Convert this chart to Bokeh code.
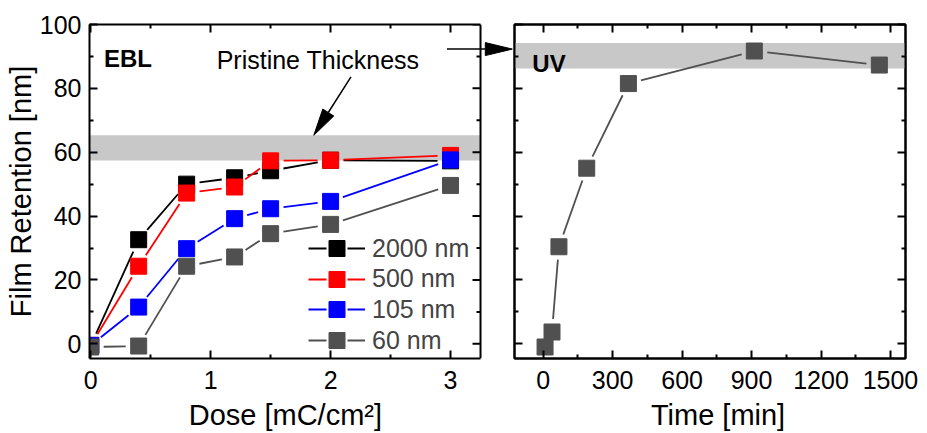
import math

from bokeh.embed import file_html
from bokeh.layouts import row
from bokeh.models import (Arrow, BoxAnnotation, ColumnDataSource, FixedTicker, Label,
                          Legend, LegendItem, LinearAxis, Range1d, Span)
from bokeh.plotting import figure
from bokeh.resources import INLINE

# ---- data -------------------------------------------------------------
dose = [0.0, 0.4, 0.8, 1.2, 1.5, 2.0, 3.0]          # mC/cm^2
ret_2000 = [-0.5, 32.6, 50.0, 52.0, 54.2, 57.5, 57.3]
ret_500 = [-0.5, 24.3, 47.2, 49.1, 57.3, 57.5, 59.0]
ret_105 = [-0.5, 11.5, 29.8, 39.2, 42.3, 44.6, 57.6]
ret_60 = [-1.0, -0.7, 24.3, 27.2, 34.5, 37.4, 49.6]
series_labels = ["2000 nm", "500 nm", "105 nm", "60 nm"]
series_colors = ["#000000", "#ff0000", "#0000ff", "#505050"]

uv_time = [8, 38, 68, 188, 368, 912, 1452]          # min
uv_ret = [-1.0, 3.7, 30.4, 55.0, 81.5, 91.7, 87.3]

ebl_band = (57.4, 65.3)     # pristine thickness range, EBL films
uv_band = (86.2, 94.2)      # pristine thickness range, UV film

dose_ticks = [0, 1, 2, 3]
dose_minor = [0.5, 1.5, 2.5]
time_ticks = [0, 300, 600, 900, 1200, 1500]
time_minor = [150, 450, 750, 1050, 1350]
ret_ticks = [0, 20, 40, 60, 80, 100]
ret_minor = [10, 30, 50, 70, 90]

# ---- layout constants -------------------------------------------------
FONT = "Liberation Sans"
NBSP = "\u00a0"
FH = 334
FW1 = 424                  # EBL frame incl. the strip the arrow crosses
FW2 = 391
LEFT1, TOP = 89, 24
DOSE_BOX = (-0.01, 3.25)   # visible extent of the EBL box
X1 = (-0.01, 3.525)
X2 = (-124, 1565)
Y = (-4.6, 100)
GAP = 13          # px left free between a line end and a marker centre
MSIZE = 16
HEAD_LEN, HEAD_W = 27, 13
TICK_IN, MINOR_IN = 8, 4
KEY_X, KEY_Y0, KEY_STEP = 219, 90, 30.7   # legend rows, px from frame bottom-left

kx1, ky = FW1 / (X1[1] - X1[0]), FH / (Y[1] - Y[0])
kx2 = FW2 / (X2[1] - X2[0])


def gapped(xs, ys, kx, gap=GAP):
    """Line segments between consecutive points, trimmed around markers."""
    out = dict(x0=[], y0=[], x1=[], y1=[])
    for xa, ya, xb, yb in zip(xs, ys, xs[1:], ys[1:]):
        dx, dy = (xb - xa) * kx, (yb - ya) * ky
        length = math.hypot(dx, dy)
        if length <= 2 * gap:
            continue
        t = gap / length
        out["x0"].append(xa + (xb - xa) * t)
        out["y0"].append(ya + (yb - ya) * t)
        out["x1"].append(xb - (xb - xa) * t)
        out["y1"].append(yb - (yb - ya) * t)
    return out


def style_axis(ax, labelled):
    ax.axis_line_width = 2
    ax.axis_line_color = "black"
    ax.major_tick_in = TICK_IN
    ax.major_tick_out = 0
    ax.minor_tick_in = MINOR_IN
    ax.minor_tick_out = 0
    ax.major_tick_line_width = 2
    ax.minor_tick_line_width = 2
    ax.major_tick_line_color = "black"
    ax.minor_tick_line_color = "black"
    if labelled:
        ax.major_label_text_font = FONT
        ax.major_label_text_font_size = "25px"
        ax.major_label_text_color = "black"
        ax.major_label_standoff = 8
        ax.axis_label_text_font = FONT
        ax.axis_label_text_font_size = "29px"
        ax.axis_label_text_font_style = "normal"
        ax.axis_label_text_color = "black"
        ax.axis_label_standoff = 0
    else:
        ax.major_label_text_font_size = "1px"
        ax.major_label_text_color = None
        ax.major_label_standoff = 0


def add_arrow(p, start, tip, kx):
    """Thin arrow line ending in a long, narrow filled head."""
    dx, dy = (tip[0] - start[0]) * kx, (tip[1] - start[1]) * ky
    n = math.hypot(dx, dy)
    ux, uy = dx / n, dy / n
    bx, by = tip[0] - ux * HEAD_LEN / kx, tip[1] - uy * HEAD_LEN / ky
    px, py = -uy * HEAD_W / 2 / kx, ux * HEAD_W / 2 / ky
    p.add_layout(Arrow(x_start=start[0], y_start=start[1], x_end=bx, y_end=by,
                       end=None, line_width=1.5, line_color="black"))
    p.patch([tip[0], bx + px, bx - px], [tip[1], by + py, by - py],
            fill_color="black", line_color="black", line_width=1)


y_range = Range1d(*Y)

# ---- EBL panel --------------------------------------------------------
p1 = figure(frame_width=FW1, frame_height=FH, x_range=Range1d(*X1), y_range=y_range,
            output_backend="svg", toolbar_location=None,
            min_border_left=LEFT1, min_border_right=0, min_border_top=TOP,
            min_border_bottom=75)
p1.add_layout(LinearAxis(), "above")
for ax in p1.xaxis:
    ax.ticker = FixedTicker(ticks=dose_ticks, minor_ticks=dose_minor)
    ax.bounds = DOSE_BOX
p1.yaxis.ticker = FixedTicker(ticks=ret_ticks, minor_ticks=ret_minor)
style_axis(p1.below[0], True)
style_axis(p1.left[0], True)
style_axis(p1.above[0], False)
p1.below[0].major_label_standoff = 12
p1.below[0].axis_label_standoff = 7
# trailing no-break spaces keep the title centred under the visible box
p1.below[0].axis_label = "Dose [mC/cm²]" + NBSP * 4
p1.left[0].axis_label = "Film Retention [nm]"
p1.grid.visible = False
p1.outline_line_color = None

# right-hand edge of the EBL box with inward ticks
p1.add_layout(Span(location=DOSE_BOX[1], dimension="height", line_color="black",
                   line_width=2))
edge_ticks = ret_ticks + ret_minor
edge_len = [TICK_IN] * len(ret_ticks) + [MINOR_IN] * len(ret_minor)
p1.segment(x0=[DOSE_BOX[1] - L / kx1 for L in edge_len], y0=edge_ticks,
           x1=[DOSE_BOX[1]] * len(edge_ticks), y1=edge_ticks,
           line_color="black", line_width=2)

p1.add_layout(BoxAnnotation(bottom=ebl_band[0], top=ebl_band[1], right=DOSE_BOX[1],
                            fill_color="#c8c8c8", fill_alpha=1, line_color=None,
                            level="underlay"))

for i, (lab, col, ys) in enumerate(zip(series_labels, series_colors,
                                       [ret_2000, ret_500, ret_105, ret_60])):
    src = ColumnDataSource(gapped(dose, ys, kx1))
    p1.segment("x0", "y0", "x1", "y1", source=src, line_color=col, line_width=1.8)
    # hidden broken line: only used for the legend key ("-■-")
    key = p1.segment("x0", "y0", "x1", "y1", source=src, line_color=col, line_width=1.8,
                     line_dash="18 21", visible=False)
    pts = p1.scatter(dose, ys, marker="square", size=MSIZE, fill_color=col, line_color=col)
    # one legend per row: key markers are drawn at 0.4 x the glyph box (40 px -> 16 px)
    p1.add_layout(Legend(items=[LegendItem(label=lab, renderers=[key, pts])],
                         location=(KEY_X, KEY_Y0 - i * KEY_STEP),
                         glyph_width=57, glyph_height=40, label_height=31,
                         padding=0, margin=0, label_standoff=7,
                         background_fill_alpha=0, border_line_alpha=0,
                         label_text_font=FONT, label_text_font_size="25px"))

p1.add_layout(Label(x=0.11, y=89.4, text="EBL", text_font=FONT, text_font_size="24px",
                    text_font_style="bold", text_color="black", text_baseline="alphabetic"))
p1.add_layout(Label(x=1.05, y=88.8, text="Pristine Thickness", text_font=FONT,
                    text_font_size="25px", text_color="black", text_baseline="alphabetic"))

# arrows from the caption to the EBL band and across to the UV band
add_arrow(p1, (2.17, 83.6), (1.86, ebl_band[1]), kx1)
add_arrow(p1, (2.97, 92.3), (3.515, 92.3), kx1)

# ---- UV panel ---------------------------------------------------------
p2 = figure(frame_width=FW2, frame_height=FH, x_range=Range1d(*X2), y_range=y_range,
            output_backend="svg", toolbar_location=None,
            min_border_left=1, min_border_right=22, min_border_top=TOP, min_border_bottom=75)
p2.add_layout(LinearAxis(), "above")
p2.add_layout(LinearAxis(), "right")
for ax in p2.xaxis:
    ax.ticker = FixedTicker(ticks=time_ticks, minor_ticks=time_minor)
for ax in p2.yaxis:
    ax.ticker = FixedTicker(ticks=ret_ticks, minor_ticks=ret_minor)
style_axis(p2.below[0], True)
style_axis(p2.left[0], False)
style_axis(p2.above[0], False)
style_axis(p2.right[0], False)
p2.below[0].major_label_standoff = 12
p2.below[0].axis_label_standoff = 7
p2.below[0].axis_label = NBSP * 2 + "Time [min]"
p2.grid.visible = False
p2.outline_line_color = "black"
p2.outline_line_width = 2

p2.add_layout(BoxAnnotation(bottom=uv_band[0], top=uv_band[1], fill_color="#c8c8c8",
                            fill_alpha=1, line_color=None, level="underlay"))
p2.segment("x0", "y0", "x1", "y1", source=ColumnDataSource(gapped(uv_time, uv_ret, kx2)),
           line_color="#505050", line_width=1.8)
p2.scatter(uv_time, uv_ret, marker="square", size=MSIZE, fill_color="#505050",
           line_color="#505050")
p2.add_layout(Label(x=-47, y=87.8, text="UV", text_font=FONT, text_font_size="24px",
                    text_font_style="bold", text_color="black", text_baseline="alphabetic"))

layout = row(p1, p2, spacing=0)
open("out.html", "w").write(file_html(layout, INLINE))
